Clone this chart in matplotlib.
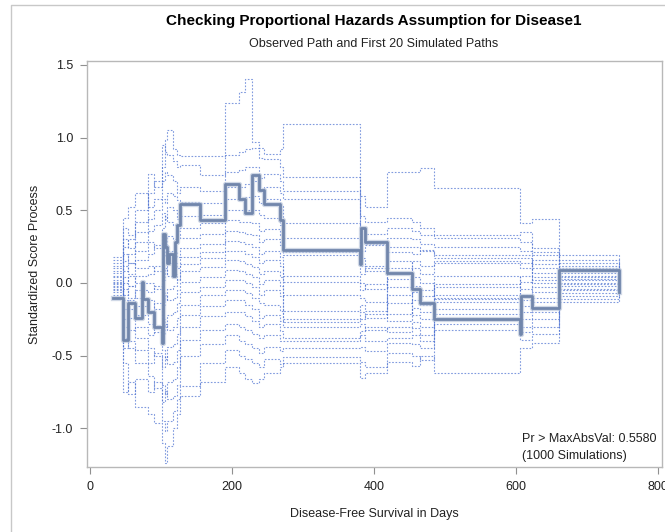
import matplotlib
matplotlib.use("Agg")
import matplotlib.pyplot as plt
from matplotlib.lines import Line2D

plt.rcParams['font.family'] = ['Liberation Sans', 'DejaVu Sans']

# observed standardized score process (step function, value after each day)
obs_days = [32, 47, 54, 63, 73, 75, 82, 91, 101, 103, 106, 109, 112, 117, 120, 123, 127,
            155, 190, 210, 218, 228, 238, 246, 268, 272, 380, 382, 388, 419, 454, 465,
            485, 606, 608, 623, 661, 746]
obs_vals = [-0.10, -0.39, -0.14, -0.24, 0.01, -0.11, -0.20, -0.30, -0.41, 0.34, 0.25, 0.14,
            0.20, 0.05, 0.28, 0.40, 0.54, 0.43, 0.68, 0.58, 0.48, 0.74, 0.64, 0.54, 0.43,
            0.23, 0.13, 0.38, 0.28, 0.07, -0.04, -0.14, -0.25, -0.35, -0.09, -0.17, 0.09,
            -0.06]

# first 20 simulated paths, evaluated at these days
sim_days = [32, 47, 54, 63, 82, 91, 101, 106, 109, 117, 123, 127, 155, 190, 210, 218, 228,
            238, 246, 268, 272, 380, 388, 419, 454, 465, 485, 606, 623, 661, 746]
sim_end = 0.0
sim_paths = [
    [0.05, 0.25, 0.30, 0.42, 0.62, 0.70, 0.80, 0.98, 1.05, 0.92, 0.88, 0.87, 0.87, 1.24, 1.31, 1.40, 0.97, 0.93, 0.89, 0.92, 1.09, 0.60, 0.52, 0.76, 0.76, 0.79, 0.65, 0.41, 0.44, 0.19],
    [0.12, 0.38, 0.33, 0.50, 0.75, 0.66, 0.95, 0.90, 0.88, 0.84, 0.80, 0.81, 0.74, 0.88, 0.90, 0.92, 0.93, 0.86, 0.85, 0.80, 0.73, 0.46, 0.42, 0.45, 0.42, 0.38, 0.33, 0.35, 0.24, 0.16],
    [0.18, 0.45, 0.52, 0.62, 0.52, 0.58, 0.70, 0.76, 0.74, 0.70, 0.62, 0.66, 0.63, 0.76, 0.78, 0.80, 0.80, 0.72, 0.75, 0.70, 0.63, 0.38, 0.34, 0.38, 0.36, 0.33, 0.31, 0.28, 0.21, 0.14],
    [0.16, 0.30, 0.24, 0.35, 0.44, 0.50, 0.58, 0.55, 0.62, 0.60, 0.57, 0.56, 0.55, 0.66, 0.66, 0.68, 0.70, 0.64, 0.66, 0.62, 0.58, 0.30, 0.27, 0.31, 0.30, 0.27, 0.25, 0.22, 0.19, 0.12],
    [0.08, 0.20, 0.14, 0.28, 0.36, 0.40, 0.48, 0.44, 0.52, 0.50, 0.44, 0.46, 0.47, 0.58, 0.58, 0.59, 0.60, 0.55, 0.58, 0.53, 0.41, 0.22, 0.26, 0.25, 0.25, 0.22, 0.19, 0.19, 0.00, 0.10],
    [0.14, 0.15, 0.20, 0.22, 0.28, 0.24, 0.38, 0.46, 0.42, 0.40, 0.36, 0.38, 0.41, 0.50, 0.50, 0.50, 0.50, 0.47, 0.45, 0.40, 0.31, 0.17, 0.12, 0.21, 0.20, 0.23, 0.17, 0.17, 0.13, 0.08],
    [0.02, 0.12, 0.06, 0.16, 0.20, 0.26, 0.28, 0.24, 0.32, 0.30, 0.34, 0.31, 0.34, 0.43, 0.42, 0.42, 0.41, 0.36, 0.37, 0.33, 0.21, 0.12, 0.08, -0.26, 0.15, 0.12, 0.15, 0.14, 0.10, 0.07],
    [0.10, 0.08, 0.14, 0.10, 0.12, 0.08, 0.18, 0.26, 0.22, 0.22, 0.18, 0.24, 0.27, 0.36, 0.35, 0.34, 0.33, 0.28, 0.30, 0.26, 0.19, 0.06, 0.10, 0.10, 0.10, 0.06, 0.14, 0.10, 0.07, 0.05],
    [-0.02, 0.04, -0.02, 0.05, 0.06, 0.12, 0.10, 0.06, 0.14, 0.14, 0.10, 0.18, 0.21, 0.29, 0.28, 0.27, 0.25, 0.20, 0.22, 0.18, 0.05, 0.00, -0.04, 0.03, 0.04, 0.00, -0.10, 0.05, 0.04, 0.04],
    [0.07, 0.00, 0.05, 0.00, 0.00, -0.04, 0.02, 0.10, 0.05, 0.06, 0.02, 0.13, 0.17, 0.22, 0.22, 0.20, 0.18, 0.14, 0.16, 0.12, 0.01, -0.05, -0.01, -0.03, -0.02, -0.05, -0.01, 0.01, 0.02, 0.03],
    [0.01, -0.04, -0.10, -0.05, -0.06, -0.02, -0.06, -0.12, -0.04, -0.02, 0.03, 0.08, 0.11, 0.16, 0.15, 0.13, 0.11, 0.06, 0.08, 0.04, -0.08, -0.10, -0.13, -0.08, -0.06, -0.09, -0.03, -0.04, 0.16, 0.02],
    [-0.04, -0.08, -0.02, -0.10, -0.12, -0.18, -0.15, -0.08, -0.12, -0.10, -0.05, 0.01, 0.04, 0.09, 0.08, 0.06, 0.04, -0.01, 0.02, -0.02, -0.19, -0.15, -0.19, -0.14, -0.12, -0.15, -0.08, -0.08, -0.03, 0.00],
    [0.04, -0.12, -0.18, -0.16, -0.20, -0.14, -0.25, -0.30, -0.22, -0.20, -0.14, -0.06, -0.03, 0.02, 0.02, 0.00, -0.03, -0.08, -0.05, -0.09, -0.25, -0.20, -0.24, -0.21, -0.17, -0.20, 0.05, -0.12, -0.06, -0.01],
    [-0.01, -0.18, -0.12, -0.22, -0.28, -0.34, -0.35, -0.28, -0.32, -0.30, -0.24, -0.15, -0.08, -0.05, -0.05, -0.07, -0.10, -0.14, -0.15, -0.19, -0.27, -0.25, -0.21, 0.15, -0.22, -0.25, -0.11, -0.16, -0.10, -0.02],
    [-0.05, -0.25, -0.32, -0.30, -0.36, -0.30, -0.46, -0.52, -0.44, -0.42, -0.35, -0.22, -0.16, -0.12, -0.12, -0.15, -0.18, -0.24, -0.22, -0.26, -0.30, -0.28, -0.32, -0.30, -0.27, -0.30, -0.13, -0.20, -0.13, -0.04],
    [0.00, -0.30, -0.24, -0.38, -0.45, -0.50, -0.58, -0.50, -0.56, -0.54, -0.46, -0.30, -0.23, -0.20, -0.20, -0.23, -0.26, -0.30, -0.28, -0.33, -0.38, -0.33, -0.30, -0.34, -0.31, -0.36, -0.18, -0.25, -0.20, -0.05],
    [-0.03, -0.38, -0.45, -0.46, -0.55, -0.48, -0.70, -0.76, -0.68, -0.66, -0.58, -0.39, -0.32, -0.28, -0.30, -0.32, -0.35, -0.38, -0.36, -0.40, -0.40, -0.36, -0.40, -0.38, -0.36, -0.40, -0.21, -0.30, -0.25, -0.07],
    [-0.06, -0.45, -0.40, -0.55, -0.64, -0.72, -0.82, -0.74, -0.80, -0.78, -0.70, -0.50, -0.42, -0.36, -0.40, -0.42, -0.45, -0.48, -0.44, -0.47, -0.45, -0.44, -0.47, -0.41, -0.42, -0.45, -0.28, -0.34, -0.30, -0.09],
    [-0.08, -0.55, -0.76, -0.66, -0.75, -0.68, -0.95, -1.02, -0.95, -0.88, -0.80, -0.71, -0.55, -0.46, -0.50, -0.52, -0.55, -0.58, -0.52, -0.56, -0.51, -0.54, -0.58, -0.48, -0.50, -0.53, -0.32, -0.39, -0.35, -0.11],
    [-0.10, -0.75, -0.68, -0.85, -0.90, -0.96, -1.10, -1.24, -1.12, -1.00, -0.90, -0.78, -0.68, -0.58, -0.62, -0.66, -0.69, -0.66, -0.62, -0.58, -0.55, -0.65, -0.62, -0.54, -0.57, -0.50, -0.62, -0.45, -0.41, -0.13],
]

p_value = 0.5580
n_sims = 1000

W, H = 665, 532
fig = plt.figure(figsize=(W / 100, H / 100), dpi=100)
ax = fig.add_axes([87 / W, (H - 467) / H, (662 - 87) / W, (467 - 61) / H])

sim_color = '#4a6fd0'
for path in sim_paths:
    ax.step(sim_days, path + [sim_end], where='post', color=sim_color,
            lw=0.8, ls=(0, (1.5, 1.5)), alpha=0.7)

# observed path: soft halo plus core line
ax.step(obs_days, obs_vals, where='post', color='#bcc8dc', lw=3.8, alpha=0.7)
ax.step(obs_days, obs_vals, where='post', color='#7186ab', lw=2.0)

ax.set_xlim(-4, 806)
ax.set_ylim(-1.265, 1.526)
ax.set_xticks([0, 200, 400, 600, 800])
ax.set_yticks([-1.0, -0.5, 0.0, 0.5, 1.0, 1.5])
ax.set_yticklabels(['-1.0', '-0.5', '0.0', '0.5', '1.0', '1.5'])

for s in ax.spines.values():
    s.set_color('#b8b8b8')
    s.set_linewidth(1.0)
ax.tick_params(direction='out', length=5, width=0.8, color='#909090',
               labelsize=9, labelcolor='#222222', pad=5)

ax.set_xlabel('Disease-Free Survival in Days', fontsize=9, color='#222222', labelpad=11)
ax.set_ylabel('Standardized Score Process', fontsize=9, color='#222222', labelpad=8)

fig.text(374 / W, 1 - 21 / H, 'Checking Proportional Hazards Assumption for Disease1',
         ha='center', va='center', fontsize=11, fontweight='bold', color='#000000')
fig.text(374 / W, 1 - 44 / H, 'Observed Path and First 20 Simulated Paths',
         ha='center', va='center', fontsize=9, color='#222222')

ax.text(0.756, 0.049, 'Pr > MaxAbsVal: {:.4f}\n({} Simulations)'.format(p_value, n_sims),
        transform=ax.transAxes, ha='left', va='center', fontsize=9,
        color='#222222', linespacing=1.55)

# outer graph border (partly outside the saved area)
fig.add_artist(Line2D([11 / W, 11 / W, 1.0], [0.0, 1 - 5 / H, 1 - 5 / H],
                      transform=fig.transFigure, color='#c8c8c8', lw=1.0))

fig.savefig('out.png', dpi=100, facecolor='white')
